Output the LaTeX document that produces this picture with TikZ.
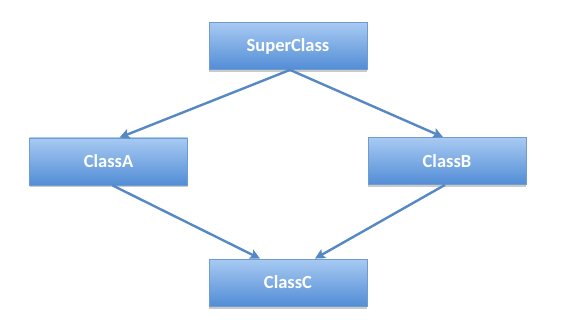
\documentclass[tikz,border=0pt]{standalone}
\usepackage{fontspec}
\setmainfont{Carlito}
\usetikzlibrary{arrows.meta, shadows}

\definecolor{boxtop}{RGB}{168,202,242}
\definecolor{boxbot}{RGB}{82,141,214}
\definecolor{boxline}{RGB}{110,155,210}
\definecolor{arrowblue}{RGB}{86,136,196}

\begin{document}
\begin{tikzpicture}[
  x=1pt, y=1pt,
  classbox/.style={rectangle, draw=boxline, line width=0.8pt, top color=boxtop, bottom color=boxbot,
    minimum width=158pt, minimum height=47pt, inner sep=0pt, text=white,
    font=\fontsize{18.5}{22}\selectfont\bfseries,
    drop shadow={shadow xshift=0pt, shadow yshift=-2.5pt, opacity=0.35, fill=black!60}},
  line/.style={draw=arrowblue, line width=2.4pt, -{Stealth[length=10pt, width=10pt, inset=2pt]}}
]
\useasboundingbox (0,0) rectangle (570,335);
\node[classbox] (super) at (288,289) {SuperClass};
\node[classbox] (classA) at (108.5,173.5) {ClassA};
\node[classbox] (classB) at (447,174) {ClassB};
\node[classbox] (classC) at (288,52.5) {ClassC};

\draw[line] ([xshift=2pt]super.south) -- ([xshift=11pt]classA.north);
\draw[line] ([xshift=2pt]super.south) -- ([xshift=-4pt]classB.north);
\draw[line] ([xshift=4pt]classA.south) -- ([xshift=-28pt]classC.north);
\draw[line] ([xshift=-2pt]classB.south) -- ([xshift=27pt]classC.north);
\end{tikzpicture}
\end{document}
